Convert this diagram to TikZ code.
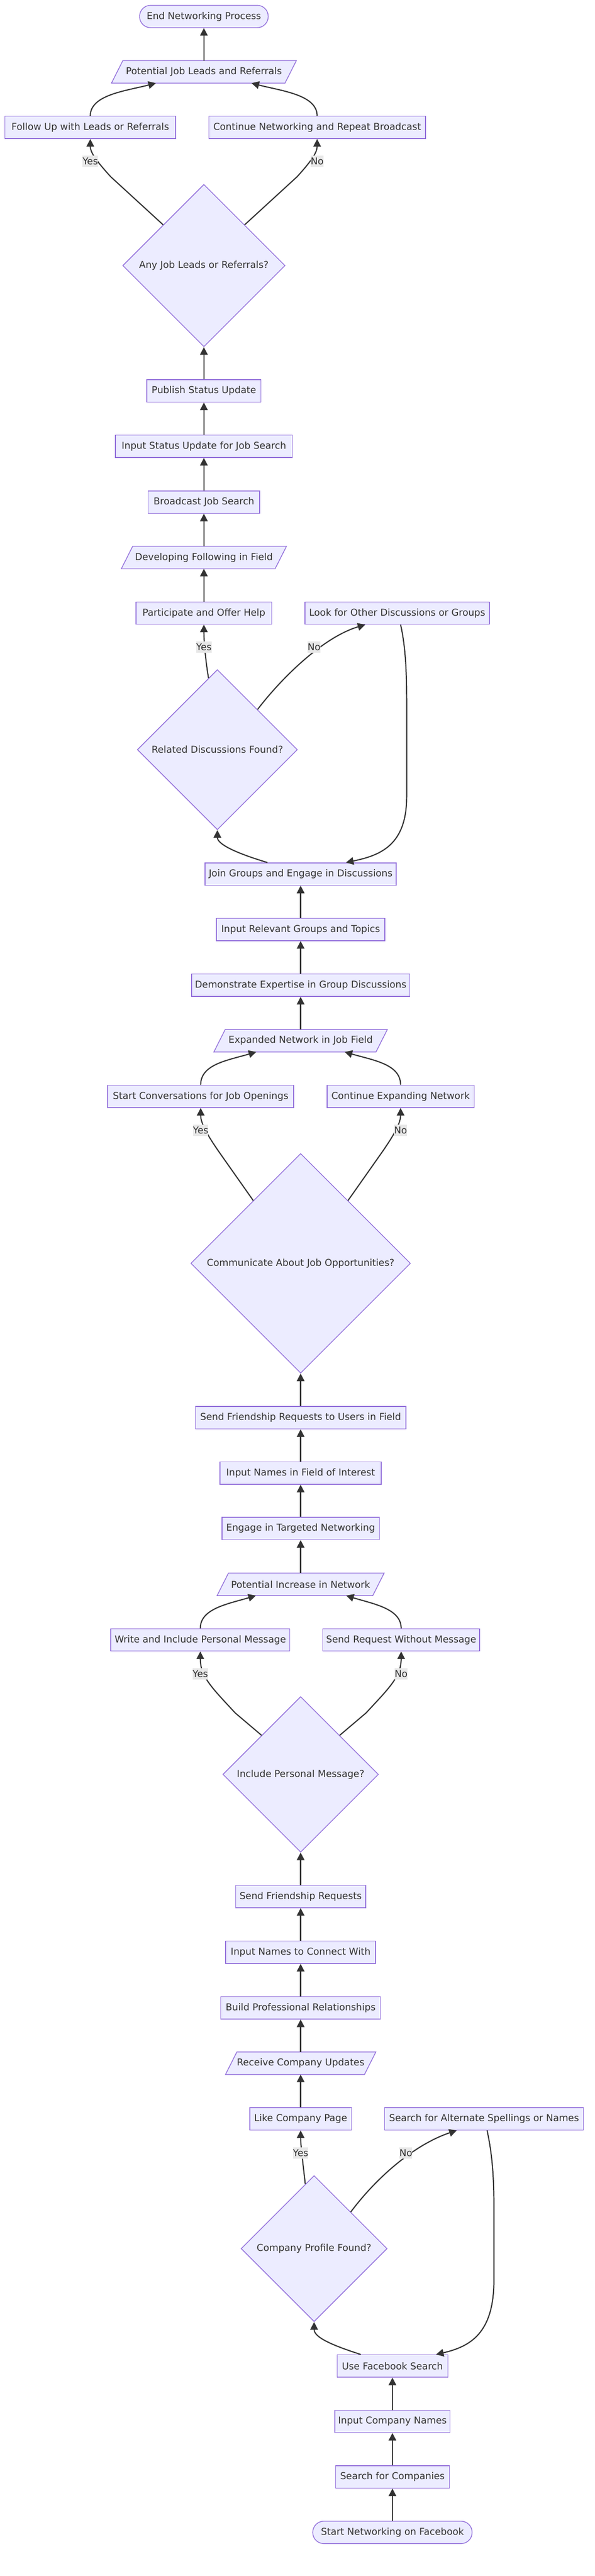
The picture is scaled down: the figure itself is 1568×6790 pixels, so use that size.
\documentclass[tikz,border=0pt]{standalone}
\usepackage{fontspec}
\setmainfont{DejaVu Sans}
\usetikzlibrary{shapes.geometric,arrows.meta,calc,backgrounds}
\definecolor{ndfill}{HTML}{ECECFF}
\definecolor{ndline}{HTML}{9370DB}
\definecolor{edgec}{HTML}{333333}
\definecolor{txt}{HTML}{333333}
\definecolor{lblbg}{HTML}{E8E8E8}
\begin{document}
\begin{tikzpicture}[x=1pt, y=-1pt,
  font=\fontsize{25}{30}\selectfont, text=txt,
  box/.style={rectangle, draw=ndline, fill=ndfill, line width=2pt, minimum height=59pt, inner sep=0pt},
  pill/.style={box, rounded corners=29pt},
  io/.style={rectangle, minimum height=59pt, inner sep=0pt},
  dec/.style={diamond, aspect=1, draw=ndline, fill=ndfill, line width=2pt, inner sep=0pt},
  iobox/.style={draw=ndline, fill=ndfill, line width=2pt},
  conn/.style={draw=edgec, line width=3pt, -{Triangle[length=20pt,width=20pt]}},
  lbl/.style={fill=lblbg, inner xsep=0pt, inner ysep=0pt, minimum height=30pt, text=txt}]
\useasboundingbox (0,0) rectangle (1568,6790);
\begin{scope}[on background layer]
\fill[white] (0,0) rectangle (1568,6790);
\end{scope}

% column A
\node[pill, minimum width=339pt] (en) at (537.5,43.5) {End Networking Process};
\node[io, minimum width=457pt] (pjl) at (537.5,189.5) {Potential Job Leads and Referrals};
\node[box, minimum width=450pt] (fu) at (238,336) {Follow Up with Leads or Referrals};
\node[box, minimum width=571pt] (cn) at (836,336) {Continue Networking and Repeat Broadcast};
\node[dec, minimum size=428pt] (aj) at (537.5,700) {Any Job Leads or Referrals?};
\node[box, minimum width=301pt] (ps) at (537.5,1030.5) {Publish Status Update};
\node[box, minimum width=466pt] (is) at (537.5,1176.5) {Input Status Update for Job Search};
\node[box, minimum width=294pt] (bj) at (537.5,1323.5) {Broadcast Job Search};
\node[io, minimum width=405pt] (df) at (537.5,1469.5) {Developing Following in Field};
\node[box, minimum width=358pt] (pa) at (537.5,1616) {Participate and Offer Help};
\node[box, minimum width=486pt] (lo) at (1047,1616) {Look for Other Discussions or Groups};
\node[dec, minimum size=422pt] (rd) at (573,1976) {Related Discussions Found?};
% column B
\node[box, minimum width=504pt] (jg) at (792.5,2304) {Join Groups and Engage in Discussions};
\node[box, minimum width=444pt] (ir) at (792.5,2450) {Input Relevant Groups and Topics};
\node[box, minimum width=575pt] (de) at (792.5,2597) {Demonstrate Expertise in Group Discussions};
\node[io, minimum width=427pt] (ex) at (792.5,2743) {Expanded Network in Job Field};
\node[box, minimum width=490pt] (sc) at (529,2890) {Start Conversations for Job Openings};
\node[box, minimum width=388pt] (ce) at (1056,2890) {Continue Expanding Network};
\node[dec, minimum size=579pt] (cd) at (792.5,3330) {Communicate About Job Opportunities?};
\node[box, minimum width=555pt] (su) at (792.5,3737) {Send Friendship Requests to Users in Field};
\node[box, minimum width=425pt] (nf) at (792.5,3883) {Input Names in Field of Interest};
\node[box, minimum width=415pt] (et) at (792.5,4029) {Engage in Targeted Networking};
\node[io, minimum width=410pt] (pi) at (792.5,4176) {Potential Increase in Network};
\node[box, minimum width=472pt] (wr) at (528,4322.5) {Write and Include Personal Message};
\node[box, minimum width=413pt] (sr) at (1057.5,4322.5) {Send Request Without Message};
\node[dec, minimum size=410pt] (id) at (792.5,4677) {Include Personal Message?};
\node[box, minimum width=343pt] (sf) at (792.5,4999) {Send Friendship Requests};
\node[box, minimum width=395pt] (nc) at (792.5,5146) {Input Names to Connect With};
\node[box, minimum width=421pt] (bp) at (792.5,5292.5) {Build Professional Relationships};
\node[io, minimum width=366pt] (rc) at (792.5,5438.5) {Receive Company Updates};
\node[box, minimum width=268pt] (lk) at (792.5,5585) {Like Company Page};
\node[box, minimum width=524pt] (sa) at (1276,5585) {Search for Alternate Spellings or Names};
\node[dec, minimum size=385pt] (kd) at (828,5927) {Company Profile Found?};
% column C
\node[box, minimum width=292pt] (uf) at (1034.5,6236.5) {Use Facebook Search};
\node[box, minimum width=303pt] (ic) at (1034.5,6382.5) {Input Company Names};
\node[box, minimum width=300pt] (sco) at (1034.5,6529) {Search for Companies};
\node[pill, minimum width=420pt] (st) at (1034.5,6675) {Start Networking on Facebook};

% parallelogram outlines
\begin{scope}[on background layer]
\foreach \n in {pjl,df,ex,pi,rc}{
  \filldraw[iobox] ($(\n.north west)+(15,0)$) -- ($(\n.north east)+(15,0)$) -- ($(\n.south east)+(-15,0)$) -- ($(\n.south west)+(-15,0)$) -- cycle;
}
\end{scope}

% loop corner coordinates
\coordinate (la1) at (1072,1850);
\coordinate (la2) at (1072,2100);
\coordinate (lb1) at (1302,5820);
\coordinate (lb2) at (1302,6010);

% connectors, bottom to top
\draw[conn] (st.north) -- (sco.south);
\draw[conn] (sco.north) -- (ic.south);
\draw[conn] (ic.north) -- (uf.south);
\draw[conn] ($(uf.north)+(-83.5,0)$) .. controls (870,6180) and (828,6160) .. (kd.south);
\draw[conn] ($(kd.north)!0.12!(kd.west)$) .. controls (797,5690) and (792.5,5650) .. (lk.south);
\draw[conn] ($(kd.north)!0.5!(kd.east)$) .. controls (1000,5730) and (1100,5650) .. ($(sa.south)+(-72,0)$);
\draw[conn] ($(sa.south)+(8,0)$) .. controls (1298,5680) and (1302,5740) .. (lb1) -- (lb2) .. controls (1302,6150) and (1240,6185) .. ($(uf.north)+(115,0)$);
\draw[conn] (lk.north) -- (rc.south);
\draw[conn] (rc.north) -- (bp.south);
\draw[conn] (bp.north) -- (nc.south);
\draw[conn] (nc.north) -- (sf.south);
\draw[conn] (sf.north) -- (id.south);
\draw[conn] ($(id.north)!0.5!(id.west)$) -- (620,4515) .. controls (560,4450) and (528,4420) .. (wr.south);
\draw[conn] ($(id.north)!0.5!(id.east)$) -- (965,4515) .. controls (1025,4450) and (1057.5,4420) .. (sr.south);
\draw[conn] (wr.north) .. controls (528,4240) and (600,4228) .. ($(pi.south)+(-118,0)$);
\draw[conn] (sr.north) .. controls (1057.5,4240) and (985,4228) .. ($(pi.south)+(120,0)$);
\draw[conn] (pi.north) -- (et.south);
\draw[conn] (et.north) -- (nf.south);
\draw[conn] (nf.north) -- (su.south);
\draw[conn] (su.north) -- (cd.south);
\draw[conn] ($(cd.north)!0.43!(cd.west)$) -- (580,3040) .. controls (545,2990) and (529,2960) .. (sc.south);
\draw[conn] ($(cd.north)!0.43!(cd.east)$) -- (1005,3040) .. controls (1040,2990) and (1056,2960) .. (ce.south);
\draw[conn] (sc.north) .. controls (529,2805) and (600,2795) .. ($(ex.south)+(-117,0)$);
\draw[conn] (ce.north) .. controls (1056,2805) and (985,2795) .. ($(ex.south)+(116,0)$);
\draw[conn] (ex.north) -- (de.south);
\draw[conn] (de.north) -- (ir.south);
\draw[conn] (ir.north) -- (jg.south);
\draw[conn] ($(jg.north)+(-87.5,0)$) .. controls (620,2248) and (573,2225) .. (rd.south);
\draw[conn] ($(rd.north)!0.11!(rd.west)$) .. controls (540,1730) and (537.5,1680) .. (pa.south);
\draw[conn] ($(rd.north)!0.5!(rd.east)$) .. controls (740,1790) and (850,1680) .. ($(lo.south)+(-84,0)$);
\draw[conn] ($(lo.south)+(9,0)$) .. controls (1068,1700) and (1072,1760) .. (la1) -- (la2) .. controls (1072,2230) and (1000,2255) .. ($(jg.north)+(119.5,0)$);
\draw[conn] (pa.north) -- (df.south);
\draw[conn] (df.north) -- (bj.south);
\draw[conn] (bj.north) -- (is.south);
\draw[conn] (is.north) -- (ps.south);
\draw[conn] (ps.north) -- (aj.south);
\draw[conn] ($(aj.north)!0.5!(aj.west)$) -- (292,466) .. controls (250,420) and (238,400) .. (fu.south);
\draw[conn] ($(aj.north)!0.5!(aj.east)$) -- (783,466) .. controls (825,420) and (836,400) .. (cn.south);
\draw[conn] (fu.north) .. controls (238,250) and (330,240) .. ($(pjl.south)+(-126.5,0)$);
\draw[conn] (cn.north) .. controls (836,250) and (744,240) .. ($(pjl.south)+(125.5,0)$);
\draw[conn] (pjl.north) -- (en.south);

% edge labels
\node[lbl] (y1) at (238,425) {Yes};
\node[lbl] (n1) at (836,425) {No};
\node[lbl] (y2) at (537.5,1706) {Yes};
\node[lbl] (n2) at (828,1706) {No};
\node[lbl] (y3) at (529,2979) {Yes};
\node[lbl] (n3) at (1056,2979) {No};
\node[lbl] (y4) at (528,4412) {Yes};
\node[lbl] (n4) at (1057.5,4412) {No};
\node[lbl] (y5) at (792.5,5675) {Yes};
\node[lbl] (n5) at (1070,5675) {No};
\end{tikzpicture}
\end{document}
